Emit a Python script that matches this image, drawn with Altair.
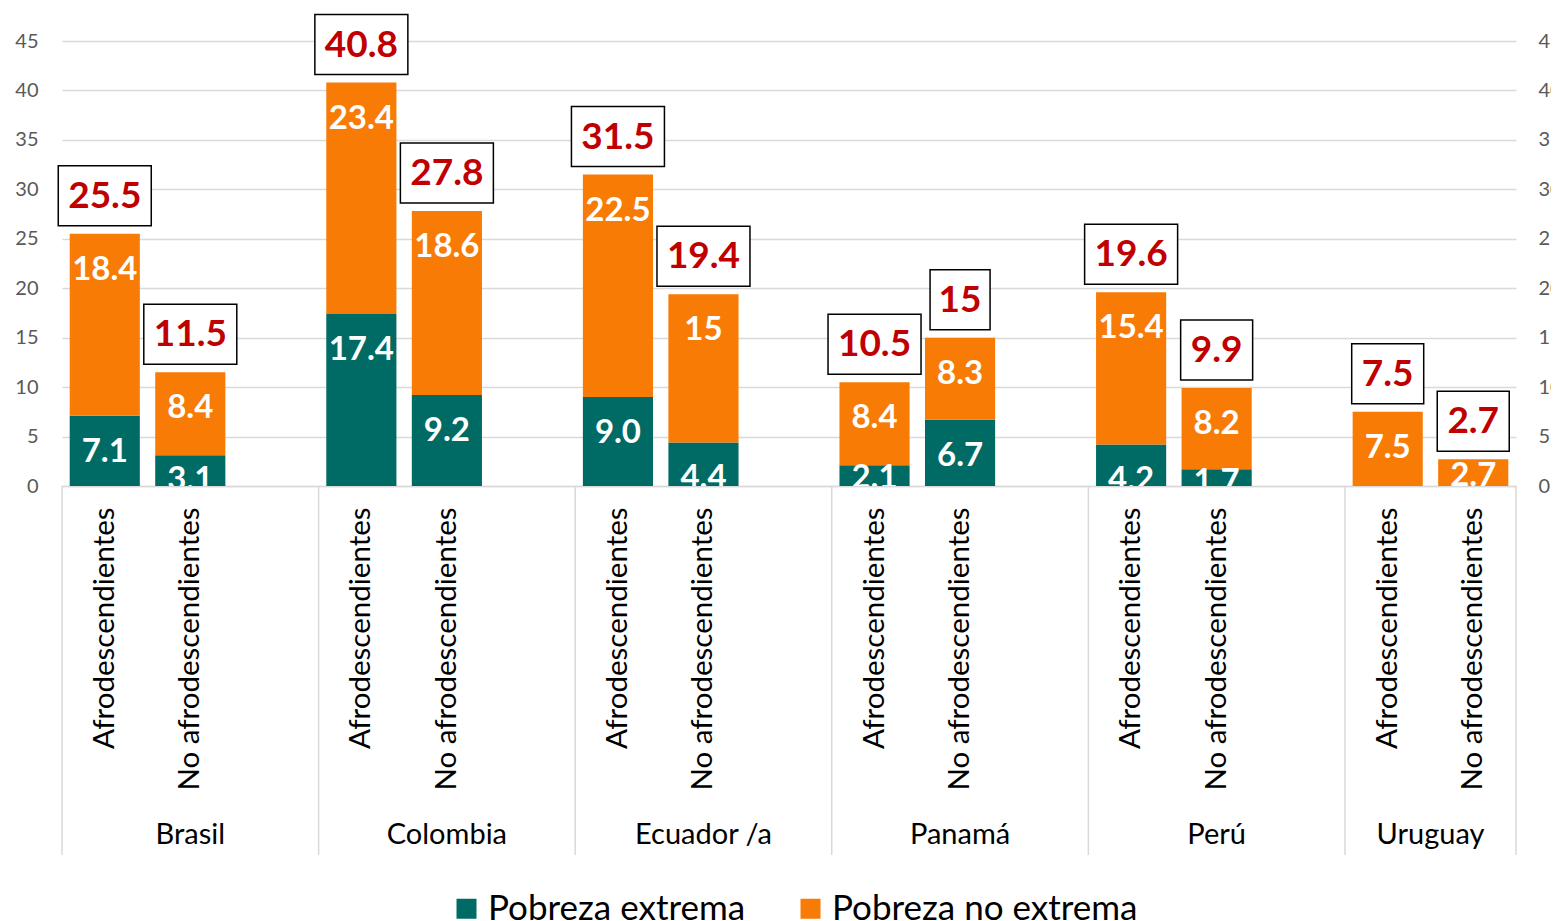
import altair as alt
import pandas as pd

countries = ["Brasil", "Colombia", "Ecuador /a", "Panamá", "Perú", "Uruguay"]
groups = ["Afrodescendientes", "No afrodescendientes"]
series = ["Pobreza extrema", "Pobreza no extrema"]
extrema = [7.1, 3.1, 17.4, 9.2, 9.0, 4.4, 2.1, 6.7, 4.2, 1.7, 0.0, 0.0]
no_extrema = [18.4, 8.4, 23.4, 18.6, 22.5, 15.0, 8.4, 8.3, 15.4, 8.2, 7.5, 2.7]
extrema_labels = ["7.1", "3.1", "17.4", "9.2", "9.0", "4.4", "2.1", "6.7", "4.2", "1.7", "", ""]
no_extrema_labels = ["18.4", "8.4", "23.4", "18.6", "22.5", "15", "8.4", "8.3", "15.4", "8.2", "7.5", "2.7"]
total_labels = ["25.5", "11.5", "40.8", "27.8", "31.5", "19.4", "10.5", "15", "19.6", "9.9", "7.5", "2.7"]
y_ticks = [0, 5, 10, 15, 20, 25, 30, 35, 40, 45]
colors = ["#006A65", "#F87B06"]

W, H = 1454, 445
Y_MAX = 45
PX = H / Y_MAX  # pixels per unit
PI, PO = 0.18, 0.09

slots = []
for i, c in enumerate(countries):
    for g in groups:
        slots.append(f"{c}|{g}")
    if i < len(countries) - 1:
        slots.append(f"{c}|")
step = W / len(slots)
half_pad = PI * step / 2


def label_pos(top, seg):
    # inside-end label, pushed up when the segment is too short (like Excel)
    h = seg * PX
    t = min(23.0, max(0.0, 2 * h - 50))
    return top - (13 + t) / PX


rows_bar, rows_lab, rows_tot = [], [], []
k = 0
for c in countries:
    for g in groups:
        slot = f"{c}|{g}"
        e, ne = extrema[k], no_extrema[k]
        tot = round(e + ne, 1)
        rows_bar.append(dict(slot=slot, serie=series[0], value=e, ord=0))
        rows_bar.append(dict(slot=slot, serie=series[1], value=ne, ord=1))
        if extrema_labels[k]:
            rows_lab.append(dict(slot=slot, pos=label_pos(e, e), label=extrema_labels[k]))
        rows_lab.append(dict(slot=slot, pos=label_pos(tot, ne), label=no_extrema_labels[k]))
        rows_tot.append(dict(slot=slot, total=tot, label=total_labels[k], n=len(total_labels[k])))
        k += 1

df_bar = pd.DataFrame(rows_bar)
df_lab = pd.DataFrame(rows_lab)
df_tot = pd.DataFrame(rows_tot)
df_sep = pd.DataFrame({"slot": [f"{c}|{groups[0]}" for c in countries]})
df_sep_end = pd.DataFrame({"slot": [f"{countries[-1]}|{groups[1]}"]})
df_cty = pd.DataFrame({"slot": [f"{c}|{groups[1]}" for c in countries[:-1]], "name": countries[:-1]})
df_cty_last = pd.DataFrame({"slot": [f"{countries[-1]}|{groups[1]}"], "name": [countries[-1]]})

xscale = alt.Scale(domain=slots, paddingInner=PI, paddingOuter=PO)
xaxis = alt.Axis(title=None, labelExpr="split(datum.value, '|')[1]", labelAngle=-90,
                 labelPadding=21, labelFontSize=29.5, labelColor="#000000", labelLimit=0,
                 ticks=False, tickSize=0, domainColor="#D9D9D9", domainWidth=1.5, grid=False)


def xenc(**kw):
    return alt.X("slot:N", scale=xscale, axis=xaxis, **kw)


yscale = alt.Scale(domain=[0, Y_MAX], nice=False)
left_axis = alt.Axis(title=None, values=y_ticks, orient="left", labelFontSize=20, labelColor="#595959",
                     ticks=False, tickSize=0, domain=False, gridColor="#D9D9D9", gridWidth=1.5, labelPadding=24)
right_axis = alt.Axis(title=None, values=y_ticks, orient="right", labelFontSize=20, labelColor="#595959",
                      ticks=False, tickSize=0, domain=False, grid=False, labelPadding=22)

bars = alt.Chart(df_bar).mark_bar().encode(
    x=xenc(),
    y=alt.Y("value:Q", stack="zero", scale=yscale, axis=left_axis),
    color=alt.Color("serie:N", scale=alt.Scale(domain=series, range=colors),
                    legend=alt.Legend(title=None, orient="none", legendX=387, legendY=850,
                                      direction="horizontal", symbolType="square", symbolSize=400,
                                      symbolStrokeWidth=0, labelFontSize=35, labelColor="#000000",
                                      labelOffset=4, columnPadding=47, padding=0, labelLimit=0)),
    order=alt.Order("ord:Q"),
)

labels = alt.Chart(df_lab).mark_text(color="white", fontWeight="bold", fontSize=33,
                                     baseline="middle", clip=True).encode(
    x=xenc(),
    y=alt.Y("pos:Q", scale=yscale, axis=right_axis),
    text="label:N",
)

box_w = {4: 93, 3: 72, 2: 60}
boxes = [
    alt.Chart(df_tot).transform_filter(f"datum.n == {n}").mark_bar(
        width=w, fill="white", stroke="black", strokeWidth=1.5, yOffset=-8, y2Offset=-68
    ).encode(
        x=xenc(),
        y=alt.Y("total:Q", scale=yscale, axis=None),
        y2="total:Q",
    )
    for n, w in box_w.items()
]

totals = alt.Chart(df_tot).mark_text(color="#C00000", fontWeight="bold", fontSize=37,
                                     baseline="middle", dy=-37).encode(
    x=xenc(),
    y=alt.Y("total:Q", scale=yscale, axis=None),
    text="label:N",
)

seps = alt.Chart(df_sep).mark_rule(color="#D9D9D9", strokeWidth=1.5, xOffset=-half_pad).encode(
    x=xenc(bandPosition=0), y=alt.value(H), y2=alt.value(H + 369))
sep_end = alt.Chart(df_sep_end).mark_rule(color="#D9D9D9", strokeWidth=1.5, xOffset=half_pad).encode(
    x=xenc(bandPosition=1), y=alt.value(H), y2=alt.value(H + 369))

cty = alt.Chart(df_cty).mark_text(fontSize=29, color="#000000", baseline="middle").encode(
    x=xenc(), y=alt.value(H + 349), text="name:N")
cty_last = alt.Chart(df_cty_last).mark_text(fontSize=29, color="#000000", baseline="middle",
                                            xOffset=-step / 2).encode(
    x=xenc(), y=alt.value(H + 349), text="name:N")

chart = alt.layer(bars, labels, *boxes, totals, seps, sep_end, cty, cty_last).resolve_axis(
    y="independent"
).properties(
    width=W, height=H,
    autosize=alt.AutoSizeParams(type="none"),
    padding={"left": 54, "top": 33, "right": 35, "bottom": 450},
    background="white",
).configure(font="Lato").configure_view(stroke="transparent")

chart.save("out.html", embed_options={"renderer": "svg", "actions": False})
